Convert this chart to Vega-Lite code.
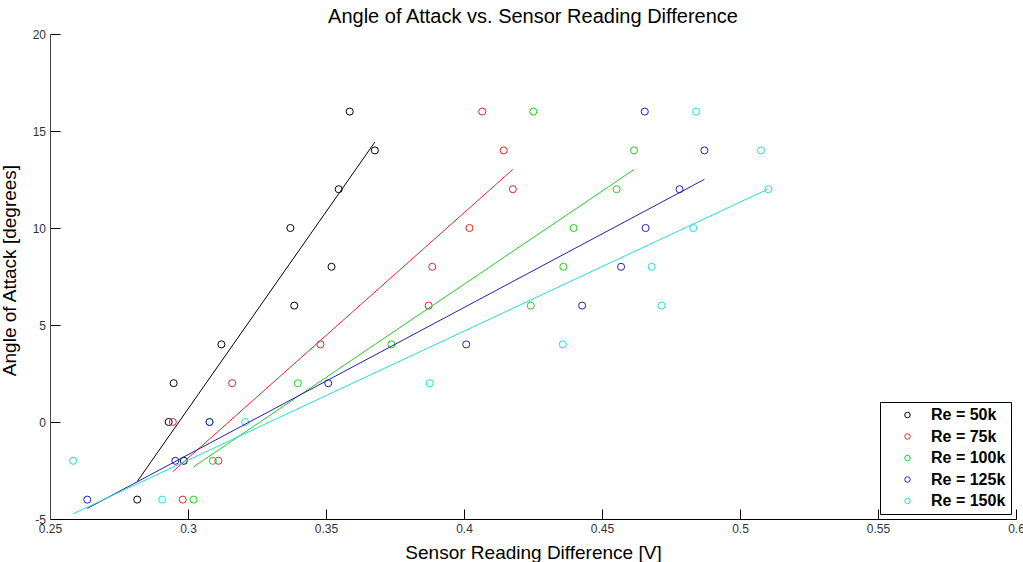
{
  "$schema": "https://vega.github.io/schema/vega-lite/v6.json",
  "width": 966,
  "height": 485,
  "autosize": "none",
  "padding": {"left": 50, "top": 34, "right": 7, "bottom": 43},
  "background": "white",
  "config": {"view": {"stroke": null}, "font": "Liberation Sans"},
  "title": {
    "text": "Angle of Attack vs. Sensor Reading Difference",
    "font": "Liberation Sans",
    "fontSize": 20,
    "fontWeight": "normal",
    "color": "#000",
    "anchor": "middle",
    "offset": 1
  },
  "data": {
    "values": [
      {"series": "Re = 50k", "diff": 0.2816, "aoa": -4},
      {"series": "Re = 50k", "diff": 0.2985, "aoa": -2},
      {"series": "Re = 50k", "diff": 0.2930, "aoa": 0},
      {"series": "Re = 50k", "diff": 0.2948, "aoa": 2},
      {"series": "Re = 50k", "diff": 0.3121, "aoa": 4},
      {"series": "Re = 50k", "diff": 0.3385, "aoa": 6},
      {"series": "Re = 50k", "diff": 0.3520, "aoa": 8},
      {"series": "Re = 50k", "diff": 0.3371, "aoa": 10},
      {"series": "Re = 50k", "diff": 0.3546, "aoa": 12},
      {"series": "Re = 50k", "diff": 0.3677, "aoa": 14},
      {"series": "Re = 50k", "diff": 0.3586, "aoa": 16},
      {"series": "Re = 75k", "diff": 0.2981, "aoa": -4},
      {"series": "Re = 75k", "diff": 0.3110, "aoa": -2},
      {"series": "Re = 75k", "diff": 0.2945, "aoa": 0},
      {"series": "Re = 75k", "diff": 0.3160, "aoa": 2},
      {"series": "Re = 75k", "diff": 0.3480, "aoa": 4},
      {"series": "Re = 75k", "diff": 0.3872, "aoa": 6},
      {"series": "Re = 75k", "diff": 0.3885, "aoa": 8},
      {"series": "Re = 75k", "diff": 0.4020, "aoa": 10},
      {"series": "Re = 75k", "diff": 0.4177, "aoa": 12},
      {"series": "Re = 75k", "diff": 0.4144, "aoa": 14},
      {"series": "Re = 75k", "diff": 0.4066, "aoa": 16},
      {"series": "Re = 100k", "diff": 0.3020, "aoa": -4},
      {"series": "Re = 100k", "diff": 0.3090, "aoa": -2},
      {"series": "Re = 100k", "diff": 0.3078, "aoa": 0},
      {"series": "Re = 100k", "diff": 0.3398, "aoa": 2},
      {"series": "Re = 100k", "diff": 0.3737, "aoa": 4},
      {"series": "Re = 100k", "diff": 0.4242, "aoa": 6},
      {"series": "Re = 100k", "diff": 0.4360, "aoa": 8},
      {"series": "Re = 100k", "diff": 0.4397, "aoa": 10},
      {"series": "Re = 100k", "diff": 0.4553, "aoa": 12},
      {"series": "Re = 100k", "diff": 0.4616, "aoa": 14},
      {"series": "Re = 100k", "diff": 0.4251, "aoa": 16},
      {"series": "Re = 125k", "diff": 0.2635, "aoa": -4},
      {"series": "Re = 125k", "diff": 0.2954, "aoa": -2},
      {"series": "Re = 125k", "diff": 0.3078, "aoa": 0},
      {"series": "Re = 125k", "diff": 0.3508, "aoa": 2},
      {"series": "Re = 125k", "diff": 0.4008, "aoa": 4},
      {"series": "Re = 125k", "diff": 0.4428, "aoa": 6},
      {"series": "Re = 125k", "diff": 0.4569, "aoa": 8},
      {"series": "Re = 125k", "diff": 0.4658, "aoa": 10},
      {"series": "Re = 125k", "diff": 0.4781, "aoa": 12},
      {"series": "Re = 125k", "diff": 0.4871, "aoa": 14},
      {"series": "Re = 125k", "diff": 0.4655, "aoa": 16},
      {"series": "Re = 150k", "diff": 0.2906, "aoa": -4},
      {"series": "Re = 150k", "diff": 0.2584, "aoa": -2},
      {"series": "Re = 150k", "diff": 0.3207, "aoa": 0},
      {"series": "Re = 150k", "diff": 0.3876, "aoa": 2},
      {"series": "Re = 150k", "diff": 0.4358, "aoa": 4},
      {"series": "Re = 150k", "diff": 0.4716, "aoa": 6},
      {"series": "Re = 150k", "diff": 0.4680, "aoa": 8},
      {"series": "Re = 150k", "diff": 0.4831, "aoa": 10},
      {"series": "Re = 150k", "diff": 0.5103, "aoa": 12},
      {"series": "Re = 150k", "diff": 0.5076, "aoa": 14},
      {"series": "Re = 150k", "diff": 0.4841, "aoa": 16}
    ]
  },
  "layer": [
    {
      "mark": {"type": "point", "shape": "circle", "filled": false, "size": 50, "strokeWidth": 1, "opacity": 1},
      "encoding": {
        "x": {
          "field": "diff", "type": "quantitative",
          "scale": {"domain": [0.25, 0.6], "nice": false, "zero": false},
          "axis": {
            "title": "Sensor Reading Difference [V]",
            "values": [0.25, 0.3, 0.35, 0.4, 0.45, 0.5, 0.55, 0.6],
            "labelExpr": "'' + datum.value",
            "grid": false,
            "tickSize": -10,
            "labelPadding": 14,
            "labelFontSize": 12,
            "labelColor": "#333",
            "labelFlush": false,
            "labelOverlap": false,
            "tickColor": "#000",
            "domainColor": "#000",
            "titleFontSize": 19,
            "titleFontWeight": "normal",
            "titleColor": "#000",
            "titleBaseline": "alphabetic",
            "titleY": 39
          }
        },
        "y": {
          "field": "aoa", "type": "quantitative",
          "scale": {"domain": [-5, 20], "nice": false, "zero": false},
          "axis": {
            "title": "Angle of Attack [degrees]",
            "values": [-5, 0, 5, 10, 15, 20],
            "labelExpr": "'' + datum.value",
            "grid": false,
            "tickSize": -10,
            "labelPadding": 14.5,
            "labelFontSize": 12,
            "labelColor": "#333",
            "labelFlush": false,
            "labelOverlap": false,
            "tickColor": "#000",
            "domainColor": "#444",
            "titleFontSize": 19,
            "titleFontWeight": "normal",
            "titleColor": "#000",
            "titleAngle": 270,
            "titleBaseline": "alphabetic",
            "titleX": -34.5,
            "titleY": 236
          }
        },
        "color": {
          "field": "series", "type": "nominal",
          "scale": {
            "domain": ["Re = 50k", "Re = 75k", "Re = 100k", "Re = 125k", "Re = 150k"],
            "range": ["#000000", "#d42a2a", "#22cc22", "#2020b0", "#22dddd"]
          },
          "legend": {
            "title": null,
            "orient": "bottom-right",
            "offset": 5,
            "strokeColor": "#000",
            "fillColor": "#fff",
            "padding": 5,
            "labelFont": "Liberation Sans",
            "labelFontSize": 16,
            "labelFontWeight": "bold",
            "labelColor": "#000",
            "symbolType": "circle",
            "symbolSize": 30,
            "symbolStrokeWidth": 1,
            "symbolFillColor": "transparent",
            "symbolOffset": 14.5,
            "labelOffset": 15.5,
            "rowPadding": 5.5
          }
        }
      }
    },
    {
      "transform": [{"regression": "aoa", "on": "diff", "groupby": ["series"]}],
      "mark": {"type": "line", "strokeWidth": 1},
      "encoding": {
        "x": {"field": "diff", "type": "quantitative"},
        "y": {"field": "aoa", "type": "quantitative"},
        "color": {"field": "series", "type": "nominal"}
      }
    }
  ]
}
